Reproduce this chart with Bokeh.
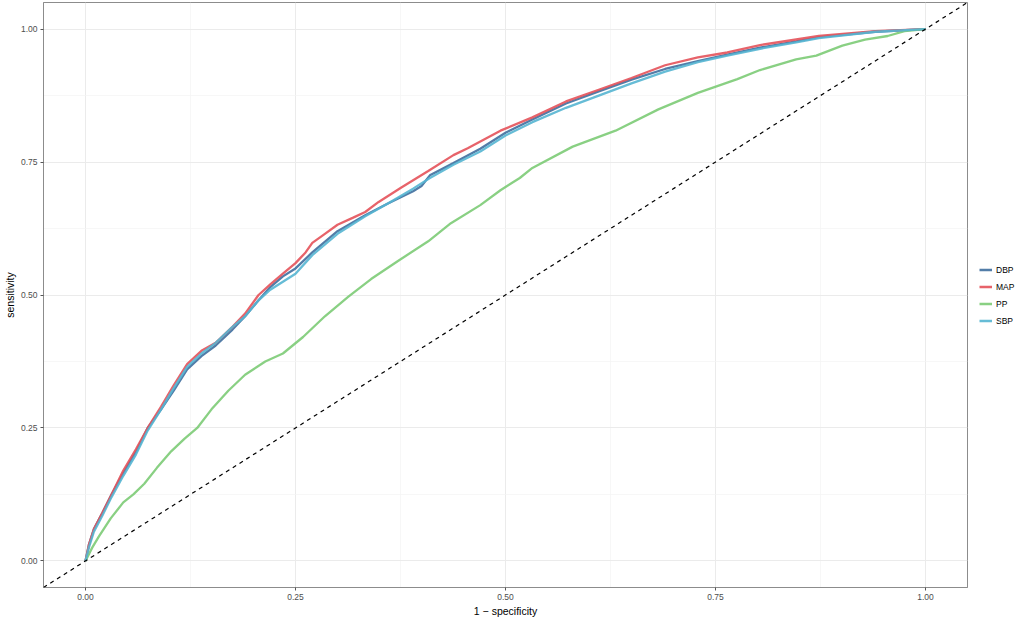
from bokeh.plotting import figure
from bokeh.models import Range1d, FixedTicker, Slope, Legend, LegendItem
from bokeh.embed import file_html
from bokeh.resources import INLINE

# ---- data ----
dbp_x = [0, 0.004, 0.01, 0.02, 0.031, 0.045, 0.06, 0.074, 0.09, 0.105, 0.121, 0.138, 0.155, 0.175, 0.19, 0.206,
         0.22, 0.235, 0.25, 0.27, 0.3, 0.333, 0.36, 0.39, 0.4, 0.41, 0.438, 0.47, 0.5, 0.532, 0.572, 0.611,
         0.65, 0.69, 0.729, 0.764, 0.803, 0.846, 0.873, 0.94, 1]
dbp_y = [0, 0.03, 0.06, 0.09, 0.125, 0.165, 0.205, 0.25, 0.285, 0.32, 0.36, 0.385, 0.405, 0.435, 0.46, 0.49,
         0.515, 0.535, 0.55, 0.58, 0.62, 0.65, 0.672, 0.695, 0.705, 0.725, 0.748, 0.775, 0.805, 0.83, 0.86, 0.883,
         0.905, 0.925, 0.94, 0.952, 0.965, 0.977, 0.985, 0.995, 1]

map_x = [0, 0.004, 0.01, 0.02, 0.031, 0.045, 0.06, 0.074, 0.09, 0.105, 0.121, 0.138, 0.155, 0.175, 0.19, 0.206,
         0.22, 0.235, 0.25, 0.262, 0.27, 0.285, 0.3, 0.318, 0.333, 0.349, 0.376, 0.408, 0.438, 0.455, 0.494,
         0.532, 0.572, 0.611, 0.65, 0.69, 0.729, 0.764, 0.803, 0.873, 0.94, 1]
map_y = [0, 0.03, 0.06, 0.09, 0.125, 0.17, 0.21, 0.25, 0.29, 0.33, 0.37, 0.395, 0.41, 0.44, 0.465, 0.5,
         0.52, 0.54, 0.56, 0.58, 0.598, 0.615, 0.632, 0.645, 0.656, 0.675, 0.702, 0.733, 0.763, 0.776, 0.809,
         0.834, 0.864, 0.886, 0.908, 0.932, 0.947, 0.956, 0.97, 0.987, 0.996, 1]

pp_x = [0, 0.008, 0.016, 0.03, 0.045, 0.057, 0.07, 0.085, 0.102, 0.118, 0.133, 0.15, 0.17, 0.19, 0.214, 0.235,
        0.259, 0.285, 0.313, 0.34, 0.372, 0.408, 0.435, 0.47, 0.494, 0.517, 0.532, 0.58, 0.631, 0.682, 0.729,
        0.776, 0.803, 0.846, 0.87, 0.901, 0.928, 0.955, 0.975, 1]
pp_y = [0, 0.025, 0.046, 0.08, 0.11, 0.125, 0.145, 0.175, 0.206, 0.23, 0.25, 0.285, 0.32, 0.35, 0.375, 0.39,
        0.421, 0.46, 0.497, 0.53, 0.564, 0.601, 0.635, 0.669, 0.697, 0.72, 0.739, 0.779, 0.809, 0.849, 0.88,
        0.906, 0.923, 0.943, 0.95, 0.969, 0.98, 0.987, 0.996, 1]

sbp_x = [0, 0.004, 0.01, 0.02, 0.031, 0.045, 0.06, 0.074, 0.09, 0.105, 0.121, 0.138, 0.155, 0.175, 0.19, 0.206,
         0.22, 0.235, 0.25, 0.27, 0.3, 0.333, 0.36, 0.39, 0.41, 0.438, 0.47, 0.5, 0.532, 0.572, 0.611,
         0.65, 0.69, 0.729, 0.764, 0.803, 0.846, 0.873, 0.94, 1]
sbp_y = [0, 0.025, 0.055, 0.085, 0.12, 0.16, 0.2, 0.245, 0.285, 0.325, 0.365, 0.39, 0.41, 0.44, 0.46, 0.49,
         0.51, 0.525, 0.54, 0.575, 0.615, 0.648, 0.672, 0.7, 0.72, 0.745, 0.77, 0.8, 0.825, 0.852, 0.875,
         0.898, 0.92, 0.938, 0.95, 0.963, 0.975, 0.983, 0.995, 1]

series_names = ["DBP", "MAP", "PP", "SBP"]
series_colors = ["#3f6f9f", "#e4525a", "#7ccb76", "#55b5d1"]
tick_values = [0, 0.25, 0.5, 0.75, 1.0]
tick_labels = ["0.00", "0.25", "0.50", "0.75", "1.00"]
minor_values = [0.125, 0.375, 0.625, 0.875]

FONT = "Liberation Sans"
FW, FH = 924, 585

p = figure(frame_width=FW, frame_height=FH, output_backend="svg", toolbar_location=None,
           x_range=Range1d(-0.05, 1.05), y_range=Range1d(-0.05, 1.05),
           min_border_left=10, min_border_top=2, min_border_bottom=10, min_border_right=0)
p.background_fill_color = "white"
p.border_fill_color = "white"
p.outline_line_color = "#8c8c8c"
p.outline_line_width = 1

for ax, lab in ((p.xaxis, "1 \u2212 specificity"), (p.yaxis, "sensitivity")):
    ax.ticker = FixedTicker(ticks=tick_values, minor_ticks=minor_values)
    ax.major_label_overrides = dict(zip(tick_values, tick_labels))
    ax.axis_label = lab
    ax.axis_label_text_font = FONT
    ax.axis_label_text_font_size = "10.5px"
    ax.axis_label_text_font_style = "normal"
    ax.axis_label_text_color = "black"
    ax.axis_label_standoff = 2
    ax.major_label_text_font = FONT
    ax.major_label_text_font_size = "8.5px"
    ax.major_label_text_color = "#4d4d4d"
    ax.major_label_standoff = 2
    ax.major_tick_in = 0
    ax.major_tick_out = 3
    ax.major_tick_line_color = "#555555"
    ax.minor_tick_line_color = None
    ax.axis_line_color = "#8c8c8c"

for g in (p.xgrid, p.ygrid):
    g.grid_line_color = "#ebebeb"
    g.grid_line_width = 1
    g.minor_grid_line_color = "#f4f4f4"
    g.minor_grid_line_width = 0.7

p.add_layout(Slope(gradient=1, y_intercept=0, line_color="black", line_width=1.2, line_dash="4 4"))

items = []
for name, xs, ys, col in zip(series_names, [dbp_x, map_x, pp_x, sbp_x], [dbp_y, map_y, pp_y, sbp_y], series_colors):
    r = p.line(xs, ys, line_color=col, line_width=2.3, line_alpha=0.9)
    items.append(LegendItem(label=name, renderers=[r]))

legend = Legend(items=items, location="left", border_line_color=None, background_fill_alpha=0,
                label_text_font=FONT, label_text_font_size="8.5px", label_text_color="black",
                glyph_width=13, glyph_height=16, label_height=16, spacing=1, label_standoff=4,
                padding=4, margin=12)
p.add_layout(legend, "right")

open("out.html", "w").write(file_html(p, INLINE))
